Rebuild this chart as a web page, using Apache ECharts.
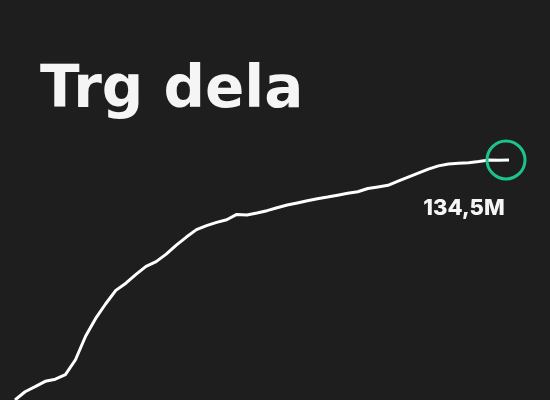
<!DOCTYPE html>
<html>
<head>
<meta charset="utf-8">
<script src="https://cdn.jsdelivr.net/npm/echarts@6/dist/echarts.min.js"></script>
<style>
html,body{margin:0;padding:0;background:#1e1e1e;}
#chart{width:550px;height:400px;}
</style>
</head>
<body>
<div id="chart"></div>
<script>
var titleText = 'Trg dela';
var lastLabel = '134,5M';
var periods = [];
var values = [44.5, 47.6, 49.5, 51.5, 52.3, 54.0, 59.6, 68.4, 75.1, 80.6,
  85.6, 88.3, 91.6, 94.6, 96.4, 99.2, 102.6, 105.6, 108.4, 109.9,
  111.1, 112.1, 114.1, 113.9, 114.6, 115.5, 116.6, 117.6, 118.4, 119.2,
  120.0, 120.6, 121.3, 122.0, 122.6, 123.8, 124.4, 125.0, 126.6, 128.1,
  129.6, 131.1, 132.3, 133.0, 133.3, 133.5, 133.9, 134.5, 134.4, 134.5];
for (var i = 0; i < values.length; i++) periods.push(String(i + 1));

var seriesData = values.map(function (v, i) {
  if (i === values.length - 1) {
    return {
      value: v,
      symbol: 'circle',
      symbolSize: 38,
      symbolOffset: [-3, 0],
      itemStyle: { color: 'rgba(0,0,0,0)', borderColor: '#1dc38e', borderWidth: 3 },
      label: {
        show: true,
        formatter: lastLabel,
        position: 'bottom',
        offset: [-42, 12],
        color: '#f5f5f5',
        fontFamily: 'Inter',
        fontWeight: 800,
        fontSize: 22
      }
    };
  }
  return { value: v, symbol: 'none' };
});

var chart = echarts.init(document.getElementById('chart'));
chart.setOption({
  backgroundColor: '#1e1e1e',
  animation: false,
  title: {
    text: titleText,
    left: 35,
    top: 58,
    textStyle: { color: '#f5f5f5', fontFamily: 'DejaVu Sans', fontWeight: 'bold', fontSize: 58 }
  },
  grid: { left: 15, right: 41, top: 0, bottom: 0 },
  xAxis: {
    type: 'category',
    data: periods,
    boundaryGap: false,
    show: false
  },
  yAxis: {
    type: 'value',
    min: 44.5,
    max: 194.5,
    show: false
  },
  series: [{
    type: 'line',
    data: seriesData,
    showSymbol: true,
    lineStyle: { color: '#ffffff', width: 3 },
    itemStyle: { color: '#ffffff' },
    clip: false
  }]
});
</script>
</body>
</html>
